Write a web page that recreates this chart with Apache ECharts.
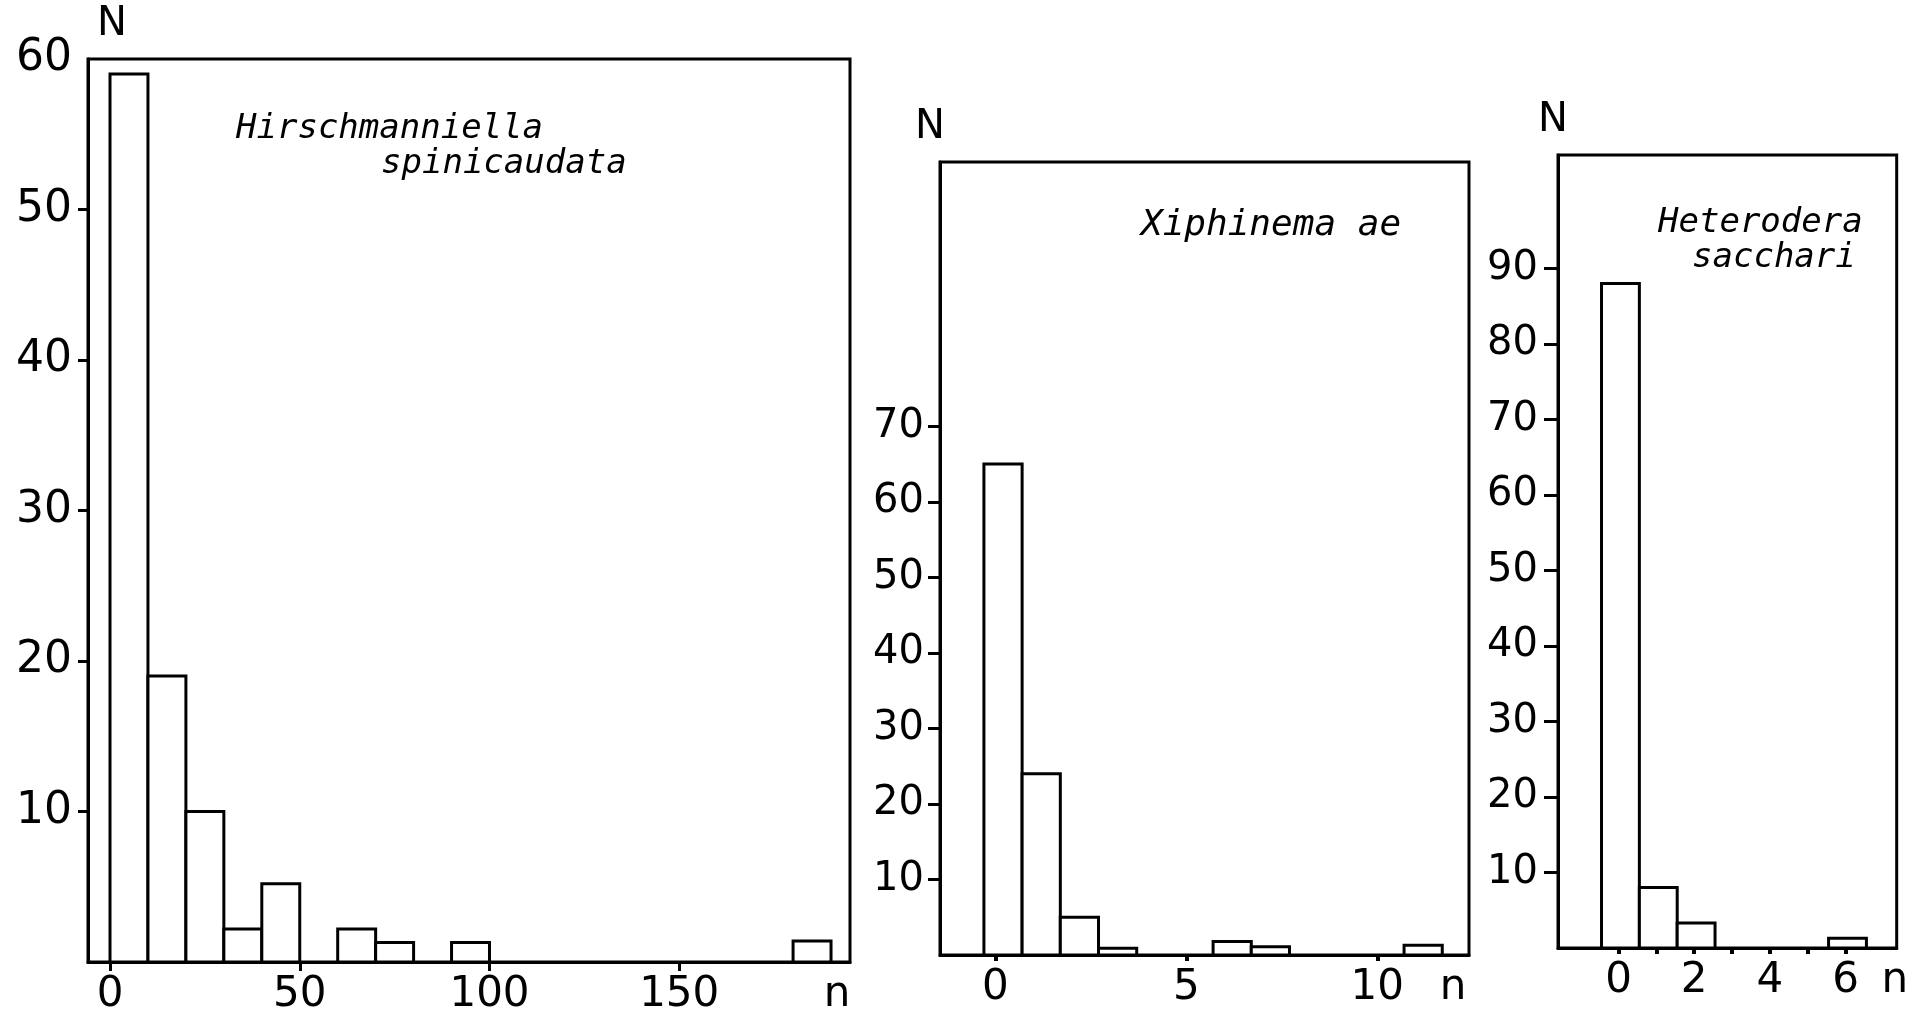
<!DOCTYPE html>
<html lang="en">
<head>
<meta charset="UTF-8">
<title>Nematode frequency distributions</title>
<script src="https://cdn.jsdelivr.net/npm/echarts@6/dist/echarts.min.js"></script>
<style>
    html, body { margin: 0; padding: 0; background: #fff; overflow: hidden; }
    #chart { width: 1911px; height: 1016px; }
</style>
</head>
<body>
<div id="chart"></div>
<script>
    // Hirschmanniella spinicaudata: classes of width 10 (lower edge) and number of samples N
    var hirschBins = [0, 10, 20, 30, 40, 60, 70, 90, 180];
    var hirschCounts = [59, 19, 10, 2.2, 5.2, 2.2, 1.3, 1.3, 1.4];
    var hirschXLabels = [0, 50, 100, 150];
    var hirschYLabels = [10, 20, 30, 40, 50, 60];
    var hirschYTicks = [10, 20, 30, 40, 50];

    // Xiphinema ae
    var xiphN = [0, 1, 2, 3, 6, 7, 11];
    var xiphCounts = [65, 24, 5, 0.9, 1.8, 1.1, 1.3];
    var xiphXLabels = [0, 5, 10];
    var xiphYLabels = [10, 20, 30, 40, 50, 60, 70];

    // Heterodera sacchari
    var hetN = [0, 1, 2, 6];
    var hetCounts = [88, 8, 3.3, 1.3];
    var hetXTicks = [0, 1, 2, 3, 4, 5, 6];
    var hetXLabels = [0, 2, 4, 6];
    var hetYLabels = [10, 20, 30, 40, 50, 60, 70, 80, 90];

    var FONT = 'DejaVu Sans';
    var TITLE_FONT = 'DejaVu Sans Mono';

    function histItem(params, api) {
        var p0 = api.coord([api.value(0), api.value(2)]);
        var p1 = api.coord([api.value(1), 0]);
        return {
            type: 'rect',
            shape: { x: p0[0], y: p0[1], width: p1[0] - p0[0], height: p1[1] - p0[1] },
            style: { fill: '#fff', stroke: '#000', lineWidth: 3 }
        };
    }

    function rows(starts, counts, lo, hi) {
        var out = [];
        for (var i = 0; i < starts.length; i++) {
            out.push([starts[i] + lo, starts[i] + hi, counts[i]]);
        }
        return out;
    }

    function xAxisOf(idx, min, max, ticks, labels, tickLen, tickW, nGap) {
        return {
            type: 'value', gridIndex: idx, min: min, max: max,
            splitLine: { show: false },
            axisLine: { show: true, onZero: false, lineStyle: { color: '#000', width: 3 } },
            axisTick: { show: true, customValues: ticks, length: tickLen, lineStyle: { color: '#000', width: tickW } },
            axisLabel: { customValues: labels, margin: 12, color: '#000', fontFamily: FONT, fontSize: 42 },
            name: 'n', nameLocation: 'end', nameGap: nGap,
            nameTextStyle: { color: '#000', fontFamily: FONT, fontSize: 42, align: 'center', verticalAlign: 'top', padding: [12, 0, 0, 0] }
        };
    }

    function yAxisOf(idx, max, ticks, labels, size, margin, tickLen, nPad) {
        return {
            type: 'value', gridIndex: idx, min: 0, max: max,
            splitLine: { show: false },
            axisLine: { show: true, onZero: false, lineStyle: { color: '#000', width: 3 } },
            axisTick: { show: true, customValues: ticks, length: tickLen, lineStyle: { color: '#000', width: 3 } },
            axisLabel: { customValues: labels, margin: margin, color: '#000', fontFamily: FONT, fontSize: size },
            name: 'N', nameLocation: 'end', nameGap: 14,
            nameTextStyle: { color: '#000', fontFamily: FONT, fontSize: 40, align: 'center', verticalAlign: 'bottom', padding: nPad }
        };
    }

    function titleText(text, x, y, size) {
        return {
            type: 'text', left: x, top: y,
            style: { text: text, fill: '#000', font: 'italic ' + size + 'px "' + TITLE_FONT + '"' }
        };
    }

    var chart = echarts.init(document.getElementById('chart'));
    var option = {
        animation: false,
        backgroundColor: '#fff',
        grid: [
            { left: 88, top: 59, width: 762, height: 903, show: true, borderColor: '#000', borderWidth: 3, backgroundColor: '#fff' },
            { left: 940, top: 162, width: 529, height: 793, show: true, borderColor: '#000', borderWidth: 3, backgroundColor: '#fff' },
            { left: 1558, top: 155, width: 341, height: 793, show: true, borderColor: '#000', borderWidth: 3, backgroundColor: '#fff' }
        ],
        xAxis: [
            xAxisOf(0, -5.8, 195, hirschXLabels, hirschXLabels, 9, 3, -13),
            xAxisOf(1, -1.45, 12.4, xiphXLabels, xiphXLabels, 6, 4, -16),
            xAxisOf(2, -1.6, 7.35, hetXTicks, hetXLabels, 6, 4, -2)
        ],
        yAxis: [
            yAxisOf(0, 60, hirschYTicks, hirschYLabels, 44, 16, 10, [0, 0, 0, 48]),
            yAxisOf(1, 105, xiphYLabels, xiphYLabels, 40, 16, 12, [0, 20, 0, 0]),
            yAxisOf(2, 105, hetYLabels, hetYLabels, 40, 20, 14, [0, 10, 0, 0])
        ],
        graphic: [
            titleText('Hirschmanniella', 236, 112, 34),
            titleText('spinicaudata', 381, 147, 34),
            titleText('Xiphinema ae', 1141, 208, 36),
            titleText('Heterodera', 1658, 206, 34),
            titleText('sacchari', 1692, 241, 34)
        ],
        series: [
            { type: 'custom', xAxisIndex: 0, yAxisIndex: 0, renderItem: histItem, encode: { x: [0, 1], y: 2 },
              data: rows(hirschBins, hirschCounts, 0, 10) },
            { type: 'custom', xAxisIndex: 1, yAxisIndex: 1, renderItem: histItem, encode: { x: [0, 1], y: 2 },
              data: rows(xiphN, xiphCounts, -0.3, 0.7) },
            { type: 'custom', xAxisIndex: 2, yAxisIndex: 2, renderItem: histItem, encode: { x: [0, 1], y: 2 },
              data: rows(hetN, hetCounts, -0.45, 0.55) }
        ]
    };
    chart.setOption(option);
</script>
</body>
</html>
